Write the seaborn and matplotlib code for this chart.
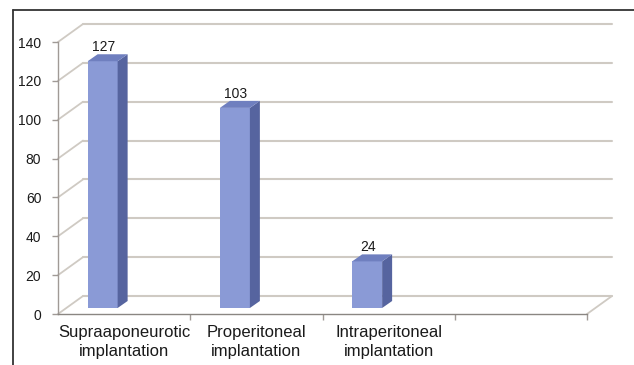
import matplotlib
matplotlib.use('Agg')
import matplotlib.pyplot as plt
import seaborn as sns
import pandas as pd
from matplotlib.patches import Polygon
from matplotlib.lines import Line2D

# data
categories = ['Supraaponeurotic\nimplantation', 'Properitoneal\nimplantation',
              'Intraperitoneal\nimplantation', '']
values = [127, 103, 24, None]
y_ticks = [0, 20, 40, 60, 80, 100, 120, 140]

df = pd.DataFrame({'cat': categories, 'val': values})

sns.set_theme(style='white')
plt.rcParams['font.family'] = ['Liberation Sans', 'DejaVu Sans']

W, H = 634, 365
fig = plt.figure(figsize=(W / 100, H / 100), dpi=100)
fig.patch.set_facecolor('white')
# axes placed in pixels: x 58..587, y 42..314 (from top)
ax = fig.add_axes([58 / W, (H - 314) / H, (587 - 58) / W, (314 - 42) / H])
ax.set_xlim(-0.5, 3.5)
ax.set_ylim(0, 140)
ax.set_facecolor('none')

# pixel -> data conversion
sx = 4 / (587 - 58)
sy = 140 / (314 - 42)

grid_c = '#cfcac3'
depth_x, depth_y = 25 * sx, 18 * sy

# back wall gridlines + diagonals to the front axis
for v in y_ticks:
    ax.plot([-0.5 + depth_x, 3.5 + depth_x], [v + depth_y, v + depth_y],
            color=grid_c, lw=1.5, clip_on=False, zorder=0)
    ax.plot([-0.5, -0.5 + depth_x], [v, v + depth_y],
            color=grid_c, lw=1.3, clip_on=False, zorder=0)
# right floor edge
ax.plot([3.5, 3.5 + depth_x], [0, depth_y], color=grid_c, lw=1.3, clip_on=False, zorder=0)

# bars (front faces)
front_c, side_c, top_c = '#8a9ad6', '#56649f', '#6f7fbf'
sns.barplot(data=df, x='cat', y='val', order=categories, width=30 / 132.25,
            color=front_c, saturation=1, ax=ax, zorder=3)

shift_x, shift_y = -21.5 * sx, 6 * sy
bx, by = 10 * sx, 7 * sy
for p, v in zip(ax.patches, values):
    if v is None or p.get_height() != p.get_height():
        continue
    p.set_x(p.get_x() + shift_x)
    p.set_y(p.get_y() + shift_y)
    p.set_edgecolor('none')
    x0, w, h = p.get_x(), p.get_width(), p.get_height()
    y0 = p.get_y()
    x1, y1 = x0 + w, y0 + h
    side = Polygon([[x1, y0], [x1 + bx, y0 + by], [x1 + bx, y1 + by], [x1, y1]],
                   closed=True, facecolor=side_c, edgecolor='none', zorder=3, clip_on=False)
    top = Polygon([[x0, y1], [x1, y1], [x1 + bx, y1 + by], [x0 + bx, y1 + by]],
                  closed=True, facecolor=top_c, edgecolor='none', zorder=3, clip_on=False)
    ax.add_patch(side)
    ax.add_patch(top)
    ax.annotate(f'{v}', (x0 + w / 2 + 1 * sx, y1), xytext=(0, 5), textcoords='offset points',
                ha='center', va='bottom', fontsize=10, color='#1a1a1a')

# axes styling
for s in ['top', 'right']:
    ax.spines[s].set_visible(False)
ax.spines['left'].set_color('#a09a96')
ax.spines['bottom'].set_color('#8a8682')
ax.spines['left'].set_linewidth(1.0)
ax.spines['bottom'].set_linewidth(1.0)

ax.set_yticks(y_ticks)
ax.tick_params(axis='y', length=4, width=1, color='#a09a96', labelsize=10,
               labelcolor='#1a1a1a', pad=8, left=True)
ax.set_xticks(range(len(categories)))
ax.set_xticklabels(categories, fontsize=12, color='#1a1a1a', linespacing=1.3)
ax.set_xticks([0.5, 1.5, 2.5, 3.5], minor=True)
ax.tick_params(axis='x', which='major', length=0, pad=8)
ax.tick_params(axis='x', which='minor', length=4, width=1, color='#a09a96', bottom=True)
ax.set_xlabel('')
ax.set_ylabel('')

# outer frame (top and left edges)
fig.add_artist(Line2D([13 / W, 13 / W], [0, (H - 10) / H], color='#333333', lw=1.3))
fig.add_artist(Line2D([13 / W, 1], [(H - 10) / H, (H - 10) / H], color='#333333', lw=1.3))

fig.savefig('out.png', dpi=100)
